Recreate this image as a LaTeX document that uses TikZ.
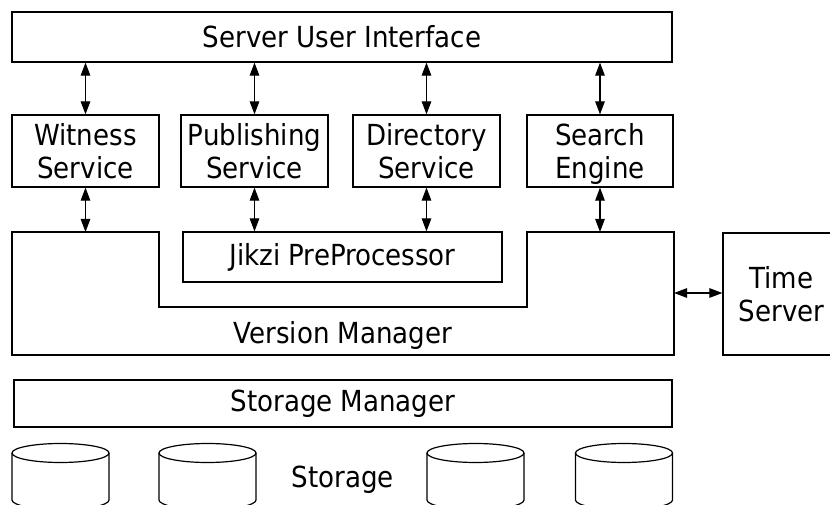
\documentclass[tikz,border=0pt]{standalone}
\usepackage{fontspec}
\setmainfont{DejaVu Sans Condensed}
\usetikzlibrary{arrows.meta}

\begin{document}
\begin{tikzpicture}[x=1pt, y=-1pt,
    box/.style={draw, line width=1.2pt, inner sep=0pt, align=center,
                font=\fontsize{29}{33}\selectfont},
    service/.style={box, minimum width=147pt, minimum height=72pt, text depth=0pt},
    label/.style={font=\fontsize{29}{33}\selectfont, anchor=base},
    link/.style={{Triangle[length=13pt,width=9.5pt]}-{Triangle[length=13pt,width=9.5pt]},
                 line width=1.1pt}]
    \useasboundingbox (0,0) rectangle (830,505);
    \clip (0,0) rectangle (830,505);

    % Top layer
    \node[box, minimum width=660pt, minimum height=50pt] (ui) at (342,37) {Server User Interface};

    % Services
    \node[service] (witness) at (85.5,151) {Witness\\Service};
    \node[service] (publish) at (254.5,151) {Publishing\\Service};
    \node[service] (directory) at (426.5,151) {Directory\\Service};
    \node[service, minimum width=146pt] (search) at (600,151) {Search\\Engine};

    % Version manager with the preprocessor set into it
    \draw[line width=1.2pt] (12,232) -- (159,232) |- (527,307) -- (527,232)
                            -- (674,232) |- (12,355) -- cycle;
    \node[label] (vm) at (343,343) {Version Manager};
    \coordinate (vmL) at (85.5,232);
    \coordinate (vmR) at (600,232);
    \coordinate (vmE) at (674,293);
    \node[box, minimum width=319pt, minimum height=50pt] (jikzi) at (342.5,257) {Jikzi PreProcessor};

    % Time server
    \node[box, minimum width=117pt, minimum height=122pt] (time) at (781.5,294) {Time\\Server};

    % Links
    \foreach \s in {witness, publish, directory, search} {
        \draw[link] (\s.north |- ui.south) -- (\s.north);
    }
    \draw[link] (witness.south) -- (vmL);
    \draw[link] (publish.south) -- (publish.south |- jikzi.north);
    \draw[link] (directory.south) -- (directory.south |- jikzi.north);
    \draw[link] (search.south) -- (vmR);
    \draw[link] (vmE) -- (vmE -| time.west);

    % Storage
    \node[box, minimum width=658pt, minimum height=47pt] (sm) at (343,403.5) {Storage Manager};
    \node[label] (storage) at (343,487) {Storage};
    \foreach \cx in {60.5, 207.5, 475.5, 624} {
        \draw[line width=1.2pt] (\cx,453) ellipse (48.5pt and 9.5pt);
        \draw[line width=1.2pt] (\cx-48.5,453) -- (\cx-48.5,500)
            arc[start angle=180, end angle=360, x radius=48.5pt, y radius=9.5pt]
            -- (\cx+48.5,453);
    }
\end{tikzpicture}
\end{document}
